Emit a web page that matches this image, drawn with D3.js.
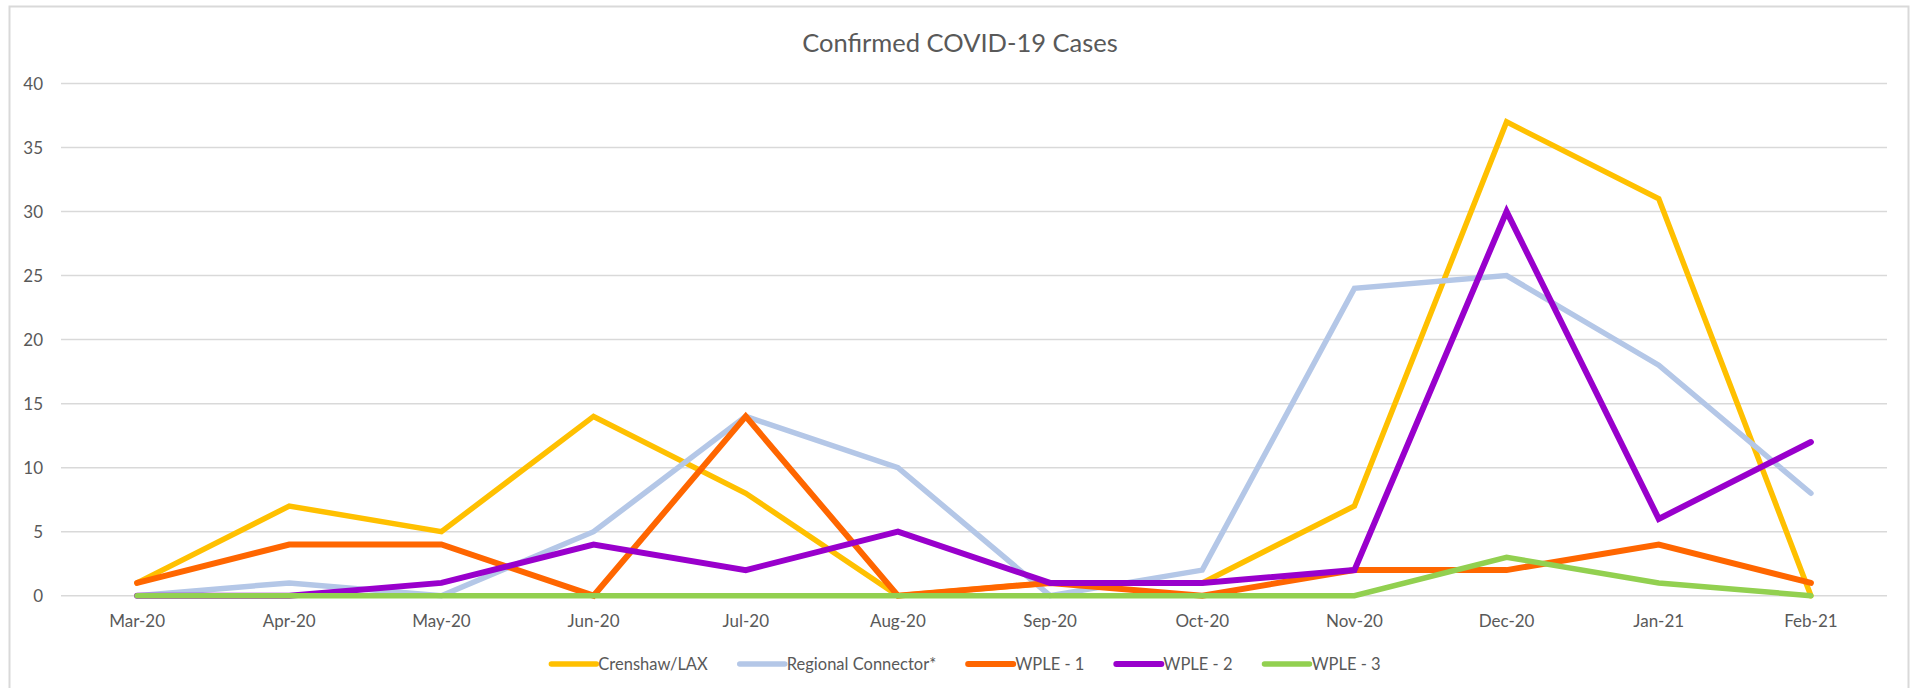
<!DOCTYPE html>
<html>
<head>
<meta charset="utf-8">
<script src="https://cdn.jsdelivr.net/npm/d3@7"></script>
<style>
  html, body { margin: 0; padding: 0; background: #fff; }
  svg { display: block; }
  text { font-family: Lato, "Open Sans", sans-serif; fill: #595959; }
</style>
</head>
<body>
<svg id="chart" width="1913" height="688"></svg>
<script>
const months = ["Mar-20","Apr-20","May-20","Jun-20","Jul-20","Aug-20","Sep-20","Oct-20","Nov-20","Dec-20","Jan-21","Feb-21"];
const yTicks = [0,5,10,15,20,25,30,35,40];
const seriesNames = ["Crenshaw/LAX","Regional Connector*","WPLE - 1","WPLE - 2","WPLE - 3"];
const crenshaw = [1,7,5,14,8,0,1,1,7,37,31,0];
const regional = [0,1,0,5,14,10,0,2,24,25,18,8];
const wple1 = [1,4,4,0,14,0,1,0,2,2,4,1];
const wple2 = [0,0,1,4,2,5,1,1,2,30,6,12];
const wple3 = [0,0,0,0,0,0,0,0,0,3,1,0];
const colors = ["#FFC000","#B4C7E7","#FF6600","#9900CC","#92D050"];
const widths = [5.5,5.5,6,6,5.5];
const seriesValues = [crenshaw, regional, wple1, wple2, wple3];

const svg = d3.select("#chart");

// chart area border
svg.append("rect").attr("x",9.5).attr("y",6.5).attr("width",1899).attr("height",700)
  .attr("fill","#fff").attr("stroke","#D9D9D9").attr("stroke-width",2);

const x = d3.scaleBand().domain(months).range([61, 1887]).paddingInner(0).paddingOuter(0);
const y = d3.scaleLinear().domain([0,40]).range([595.7, 83.5]);
const cx = d => x(d) + x.bandwidth()/2;

// gridlines
svg.append("g").selectAll("line").data(yTicks).join("line")
  .attr("x1",61).attr("x2",1887)
  .attr("y1",d=>y(d)).attr("y2",d=>y(d))
  .attr("stroke","#D9D9D9").attr("stroke-width",1.5);

// y axis labels
const yAxis = d3.axisLeft(y).tickValues(yTicks).tickSize(0).tickPadding(0);
const yg = svg.append("g").attr("transform","translate(43,0)").call(yAxis);
yg.select(".domain").remove();
yg.selectAll("text").attr("font-size",17).attr("font-family","Lato").attr("fill","#595959").attr("dy","0.34em");

// x axis labels
const xAxis = d3.axisBottom(x).tickSize(0).tickPadding(0);
const xg = svg.append("g").attr("transform","translate(0,615)").call(xAxis);
xg.select(".domain").remove();
xg.selectAll("text").attr("font-size",17).attr("font-family","Lato").attr("fill","#595959").attr("dy","0.72em");

// lines
const line = d3.line().x((d,i)=>cx(months[i])).y(d=>y(d));
seriesValues.forEach((vals,k)=>{
  svg.append("path").datum(vals).attr("d",line)
    .attr("fill","none").attr("stroke",colors[k]).attr("stroke-width",widths[k])
    .attr("stroke-linecap","round").attr("stroke-linejoin","miter");
});

// title
svg.append("text").attr("x",960).attr("y",52).attr("text-anchor","middle")
  .attr("font-size",25.5).attr("fill","#595959").text("Confirmed COVID-19 Cases");

// legend
const lg = svg.append("g");
const items = seriesNames.map((n,k)=>{
  const g = lg.append("g");
  g.append("line").attr("x1",0).attr("x2",45).attr("y1",0).attr("y2",0)
    .attr("stroke",colors[k]).attr("stroke-width",widths[k]).attr("stroke-linecap","round");
  const t = g.append("text").attr("x",47).attr("y",0).attr("dy","0.35em")
    .attr("font-size",16.5).text(n);
  return {g, w: 47 + t.node().getComputedTextLength()};
});
const gap = 32;
const total = d3.sum(items, d=>d.w) + gap*(items.length-1);
let pos = 966 - total/2;
items.forEach(it=>{ it.g.attr("transform",`translate(${pos},664)`); pos += it.w + gap; });
</script>
</body>
</html>
